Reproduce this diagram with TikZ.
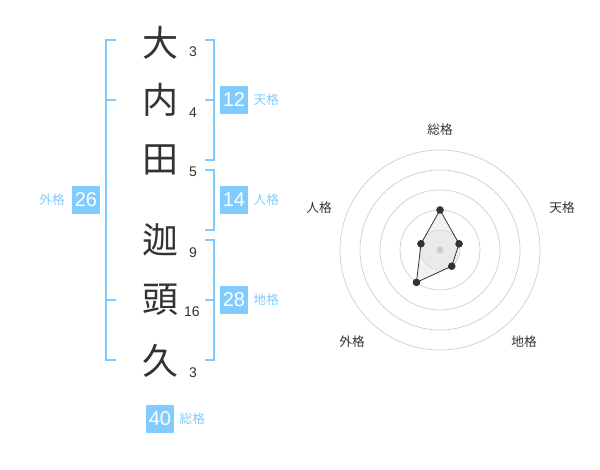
\documentclass[tikz,border=0pt]{standalone}
\usepackage{fontspec}
\setmainfont{Liberation Sans}
\newfontfamily\jpfont{Noto Sans CJK JP}
\usetikzlibrary{positioning}

\definecolor{kakublue}{HTML}{80CCFF}
\definecolor{inkgray}{HTML}{333333}
\definecolor{ringgray}{HTML}{CCCCCC}

\tikzset{
  kanji/.style={font=\jpfont\fontsize{27}{27}\selectfont,text=inkgray,inner sep=0pt},
  strokes/.style={font=\fontsize{10.5}{10.5}\selectfont,text=inkgray,inner sep=0pt},
  badge/.style={fill=kakublue,text=white,minimum size=21pt,inner sep=0pt,font=\fontsize{15}{15}\selectfont},
  kaku/.style={text=kakublue,font=\jpfont\fontsize{9.5}{9.5}\selectfont,inner sep=0pt},
  bracket/.style={draw=kakublue,line width=1.5pt},
  ring/.style={draw=ringgray,line width=0.5pt},
  vertex/.style={circle,fill=inkgray,inner sep=0pt,minimum size=5.5pt},
  axislabel/.style={text=inkgray,font=\jpfont\fontsize{9.5}{9.5}\selectfont,inner sep=0pt}
}

\begin{document}
\begin{tikzpicture}[x=0.75pt,y=-0.75pt]
    \useasboundingbox (0,0) rectangle (600,470);
    % name characters
    \node[kanji] (c1) at (160,43) {大};
    \node[kanji] (c2) at (160,100) {内};
    \node[kanji] (c3) at (160,160) {田};
    \node[kanji] (c4) at (160,240) {迦};
    \node[kanji] (c5) at (160,300) {頭};
    \node[kanji] (c6) at (160,361) {久};
    \node[strokes] (s1) at (193,52) {3};
    \node[strokes] (s2) at (193,113) {4};
    \node[strokes] (s3) at (193,172) {5};
    \node[strokes] (s4) at (193,253) {9};
    \node[strokes] (s5) at (192,312) {16};
    \node[strokes] (s6) at (193,373) {3};
    % brackets
    \draw[bracket] (116,40) -| (106,360) -- (116,360);
    \draw[bracket] (106,100) -- (116,100) (106,300) -- (116,300);
    \draw[bracket] (205,40) -| (214,160) -- (205,160);
    \draw[bracket] (205,100) -- (214,100);
    \draw[bracket] (205,170) -| (214,230) -- (205,230);
    \draw[bracket] (205,240) -| (214,360) -- (205,360);
    \draw[bracket] (205,300) -- (214,300);
    % sums
    \node[badge] (ten) at (234,100) {12};
    \node[kaku] (tenl) [right=3.8pt of ten] {天格};
    \node[badge] (jin) at (234,200) {14};
    \node[kaku] (jinl) [right=3.8pt of jin] {人格};
    \node[badge] (chi) at (234,300) {28};
    \node[kaku] (chil) [right=3.8pt of chi] {地格};
    \node[badge] (gai) at (86,200) {26};
    \node[kaku] (gail) [left=5pt of gai] {外格};
    \node[badge] (sou) at (160,419) {40};
    \node[kaku] (soul) [right=3.8pt of sou] {総格};
    % radar
    \begin{scope}[shift={(440,250)},yscale=-1]
      \fill[black!6] (0,0) circle (20);
      \draw[ring] (0,0) circle (20) circle (40) circle (60) circle (80) circle (100);
      \node[vertex] (ps) at (90:40) {};
      \node[vertex] (pt) at (18:20) {};
      \node[vertex] (pc) at (-54:20) {};
      \node[vertex] (pg) at (-126:40) {};
      \node[vertex] (pj) at (162:20) {};
      \draw[inkgray,line width=0.6pt,fill=black!10,fill opacity=0.5]
        (ps.center) -- (pt.center) -- (pc.center) -- (pg.center) -- (pj.center) -- cycle;
      \fill[ringgray] (0,0) circle (3.5);
      \node[vertex] at (ps) {};
      \node[vertex] at (pt) {};
      \node[vertex] at (pc) {};
      \node[vertex] at (pg) {};
      \node[vertex] at (pj) {};
      \node[axislabel] (ls) at (0,120) {総格};
      \node[axislabel] (lt) at (122,42) {天格};
      \node[axislabel] (lj) at (-121,42) {人格};
      \node[axislabel] (lc) at (84,-92) {地格};
      \node[axislabel] (lg) at (-88,-92) {外格};
    \end{scope}
\end{tikzpicture}
\end{document}
